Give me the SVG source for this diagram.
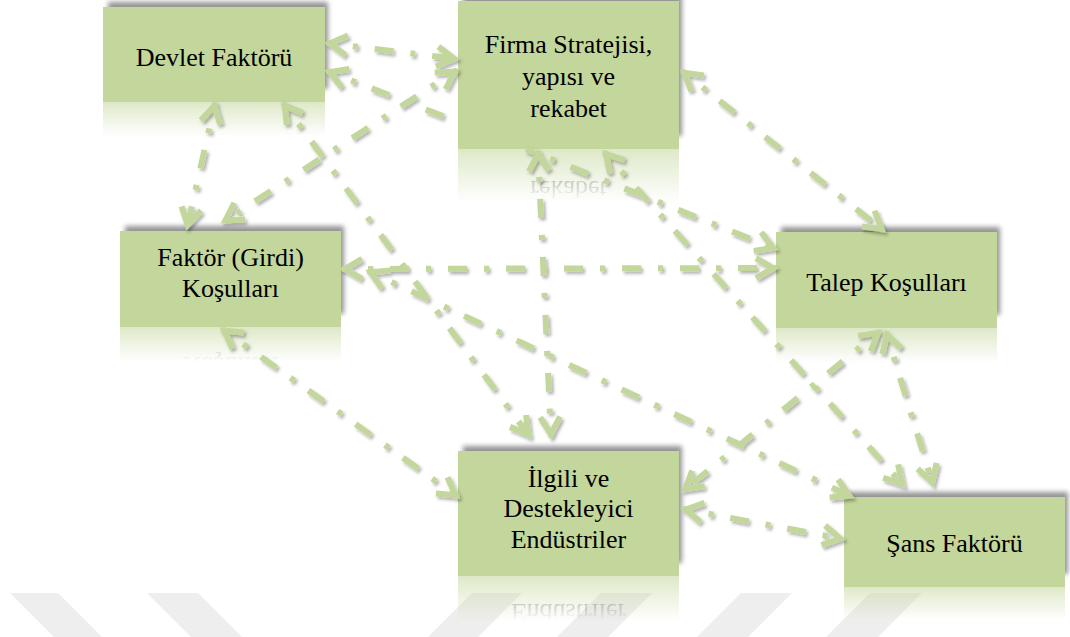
<svg xmlns="http://www.w3.org/2000/svg" width="1070" height="637" viewBox="0 0 1070 637">
  <defs>
    <style>
      .box { fill: #c3d69b; }
      .shadow { fill: #000; opacity: 0.42; filter: url(#soft); }
      .lbl { font-size: 26px; fill: #000; text-anchor: middle; }
      .wm { fill: #eeeeee; }
      .conn { fill: none; stroke: #c3d69b; stroke-width: 6; stroke-dasharray: 19 17 5 17; stroke-dashoffset: 10; }
      .both { marker-start: url(#ah); marker-end: url(#ah); }
      .head { marker-start: url(#ah); }
      .tail { marker-end: url(#ah); }
    </style>
    <filter id="soft" x="-10%" y="-20%" width="120%" height="140%">
      <feGaussianBlur stdDeviation="2.5"/>
    </filter>
    <filter id="lineShadow" x="-5%" y="-5%" width="110%" height="110%">
      <feDropShadow dx="2" dy="2.5" stdDeviation="1.5" flood-color="#000" flood-opacity="0.3"/>
    </filter>
    <linearGradient id="fadeGrad" x1="0" y1="0" x2="0" y2="1">
      <stop offset="0" stop-color="#fff" stop-opacity="0.55"/>
      <stop offset="0.36" stop-color="#fff" stop-opacity="0"/>
    </linearGradient>
    <mask id="fade" maskContentUnits="objectBoundingBox">
      <rect width="1" height="1" fill="url(#fadeGrad)"/>
    </mask>
    <marker id="ah" markerUnits="userSpaceOnUse" orient="auto-start-reverse" markerWidth="40" markerHeight="40" refX="0" refY="0" viewBox="-30 -20 40 40" overflow="visible">
      <path d="M-20,-10 L-3,0 L-20,10" fill="none" stroke="#c3d69b" stroke-width="6"/>
    </marker>
  </defs>

  <!-- background stripes along the bottom edge -->
  <g id="stripes">
    <polygon class="wm" points="10,593 58,593 110,645 62,645"/>
    <polygon class="wm" points="147,593 198,593 250,645 199,645"/>
    <polygon class="wm" points="472,593 522,593 470,645 420,645"/>
    <polygon class="wm" points="601,593 652,593 600,645 549,645"/>
    <polygon class="wm" points="741,593 792,593 740,645 689,645"/>
    <polygon class="wm" points="870,593 922,593 870,645 818,645"/>
  </g>

  <g font-family="'Liberation Serif', 'Times New Roman', 'DejaVu Serif', serif">
    <g id="devlet">
      <rect class="shadow" x="108" y="2" width="220" height="87"/>
      <g mask="url(#fade)">
        <rect class="box" x="103" y="102" width="222" height="95"/>
      </g>
      <rect class="box" x="103" y="7" width="222" height="95"/>
      <text class="lbl" x="214" y="66">Devlet Faktörü</text>
    </g>

    <g id="firma">
      <rect class="shadow" x="463" y="-4" width="219" height="140"/>
      <g mask="url(#fade)">
        <g transform="matrix(1 0 0 -1 0 298)">
          <rect class="box" x="458" y="1" width="221" height="148"/>
          <text class="lbl" x="568.5" y="117">rekabet</text>
        </g>
      </g>
      <rect class="box" x="458" y="1" width="221" height="148"/>
      <text class="lbl"><tspan x="568.5" y="53">Firma Stratejisi,</tspan><tspan x="568.5" y="85">yapısı ve</tspan><tspan x="568.5" y="117">rekabet</tspan></text>
    </g>

    <g id="faktor">
      <rect class="shadow" x="125" y="226" width="219" height="88"/>
      <g mask="url(#fade)">
        <g transform="matrix(1 0 0 -1 0 654)">
          <rect class="box" x="120" y="231" width="221" height="96"/>
          <text class="lbl" x="230.5" y="297">Koşulları</text>
        </g>
      </g>
      <rect class="box" x="120" y="231" width="221" height="96"/>
      <text class="lbl"><tspan x="230.5" y="266">Faktör (Girdi)</tspan><tspan x="230.5" y="297">Koşulları</tspan></text>
    </g>

    <g id="talep">
      <rect class="shadow" x="781" y="227" width="219" height="88"/>
      <g mask="url(#fade)">
        <rect class="box" x="776" y="328" width="221" height="96"/>
      </g>
      <rect class="box" x="776" y="232" width="221" height="96"/>
      <text class="lbl" x="886.5" y="291">Talep Koşulları</text>
    </g>

    <g id="ilgili">
      <rect class="shadow" x="463" y="446" width="219" height="117"/>
      <g mask="url(#fade)">
        <g transform="matrix(1 0 0 -1 0 1152)">
          <rect class="box" x="458" y="451" width="221" height="125"/>
          <text class="lbl" x="568.5" y="548">Endüstriler</text>
        </g>
      </g>
      <rect class="box" x="458" y="451" width="221" height="125"/>
      <text class="lbl"><tspan x="568.5" y="487">İlgili ve</tspan><tspan x="568.5" y="517">Destekleyici</tspan><tspan x="568.5" y="548">Endüstriler</tspan></text>
    </g>

    <g id="sans">
      <rect class="shadow" x="849" y="492" width="219" height="82"/>
      <g mask="url(#fade)">
        <rect class="box" x="844" y="587" width="221" height="90"/>
      </g>
      <rect class="box" x="844" y="497" width="221" height="90"/>
      <text class="lbl" x="954.5" y="552">Şans Faktörü</text>
    </g>
  </g>

  <!-- two-way dash-dot links between every pair of factors -->
  <g id="connectors" filter="url(#lineShadow)">
    <path class="conn both" d="M327,43 L457,59"/>
    <path class="conn head" d="M327,71 L458,122"/>
    <path class="conn tail" d="M526,149 L776,249"/>
    <path class="conn both" d="M215,103 L187,228"/>
    <path class="conn both" d="M283,103 L530,437"/>
    <path class="conn both" d="M457,70 L223,222"/>
    <path class="conn both" d="M682,71 L884,231"/>
    <path class="conn both" d="M538,151 L551,437"/>
    <path class="conn both" d="M604,152 L904,486"/>
    <path class="conn both" d="M342,269 L776,268"/>
    <path class="conn both" d="M368,271 L852,497"/>
    <path class="conn both" d="M222,329 L458,497"/>
    <path class="conn both" d="M880,331 L683,491"/>
    <path class="conn both" d="M886,332 L933,485"/>
    <path class="conn both" d="M683,509 L843,539"/>
  </g>
</svg>
